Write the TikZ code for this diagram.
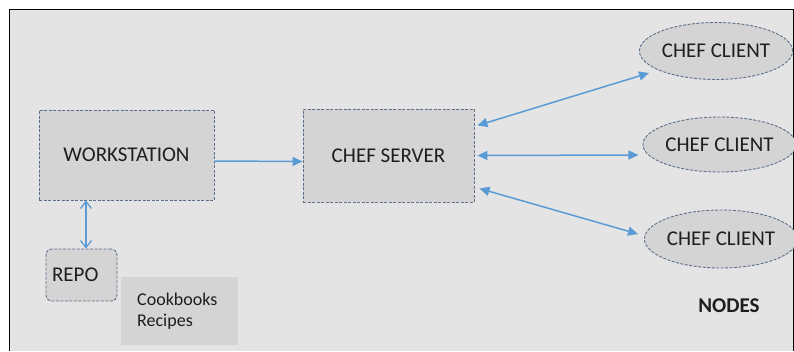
\documentclass[tikz,border=0pt]{standalone}
\usepackage{fontspec}
\setmainfont{Carlito}
\usepackage{xcolor}
\usepackage{tikz}
\usetikzlibrary{arrows.meta,positioning,calc,shapes.geometric}
\definecolor{canvas}{HTML}{E4E4E4}
\definecolor{boxfill}{HTML}{D4D4D4}
\definecolor{dashline}{HTML}{5E7088}
\definecolor{link}{HTML}{5B9BD5}
\definecolor{ink}{HTML}{1E1E1E}
\newcommand{\labelfont}{\fontsize{21}{24}\selectfont\color{ink}}

\begin{document}
\begin{tikzpicture}[x=1pt,y=-1pt,
    box/.style={draw=dashline, dash pattern=on 3pt off 1.5pt, line width=0.9pt,
                fill=boxfill, font=\labelfont, inner sep=0pt},
    client/.style={box, ellipse},
    oneway/.style={draw=link, line width=1.5pt, -{Triangle[length=10pt,width=9pt]}},
    twoway/.style={oneway, {Triangle[length=10pt,width=9pt]}-{Triangle[length=10pt,width=9pt]}},
    barbs/.style={draw=link, line width=1.3pt,
                  {Straight Barb[length=7pt,width=11pt]}-{Straight Barb[length=7pt,width=11pt]}}]
  \useasboundingbox (0,0) rectangle (794,351);
  \fill[canvas] (9,9) rectangle (794,351);
  \draw[line width=1pt] (9,351) -- (9,9) -- (793.5,9) -- (793.5,351);

  % left side
  \node[box, minimum width=175pt, minimum height=90pt] (ws) at (126.5,155) {WORKSTATION};
  \node[box, rounded corners=6pt, inner xsep=6pt, text width=59pt, align=left,
        minimum height=52pt] (repo) at (81.5,275) {REPO};
  \node[fill=boxfill, anchor=north west, inner xsep=16pt, inner ysep=9pt,
        text width=85pt, align=left, minimum height=68pt,
        font=\fontsize{18}{21}\selectfont\color{ink}]
        (cb) at (121,277) {Cookbooks\\Recipes};

  % server and nodes
  \node[box, minimum width=171pt, minimum height=93pt] (srv) at (388.5,155.5) {CHEF SERVER};
  \node[client, minimum width=147pt, minimum height=57pt] (cl1) at (716,51) {CHEF CLIENT};
  \node[client, minimum width=145pt, minimum height=55pt] (cl2) at (719.5,144.5) {CHEF CLIENT};
  \node[client, minimum width=144pt, minimum height=58pt] (cl3) at (721,239) {CHEF CLIENT};
  \node[font=\labelfont\bfseries] (tag) at (729,306) {NODES};

  % links
  \coordinate (rp) at ([xshift=4.5pt]repo.north);
  \draw[barbs] (rp |- ws.south) -- (rp);
  \draw[oneway] ([yshift=-6pt]ws.east) -- ([yshift=-6pt]srv.west);
  \draw[twoway] ([xshift=3pt,yshift=30pt]srv.east) -- ([xshift=-67pt,yshift=-22pt]cl1.center);
  \draw[twoway] ([xshift=3pt]srv.east) -- ([xshift=-4pt,yshift=-10.5pt]cl2.west);
  \draw[twoway] ([xshift=5pt,yshift=-33pt]srv.east) -- ([xshift=-6pt,yshift=5pt]cl3.west);
\end{tikzpicture}
\end{document}
